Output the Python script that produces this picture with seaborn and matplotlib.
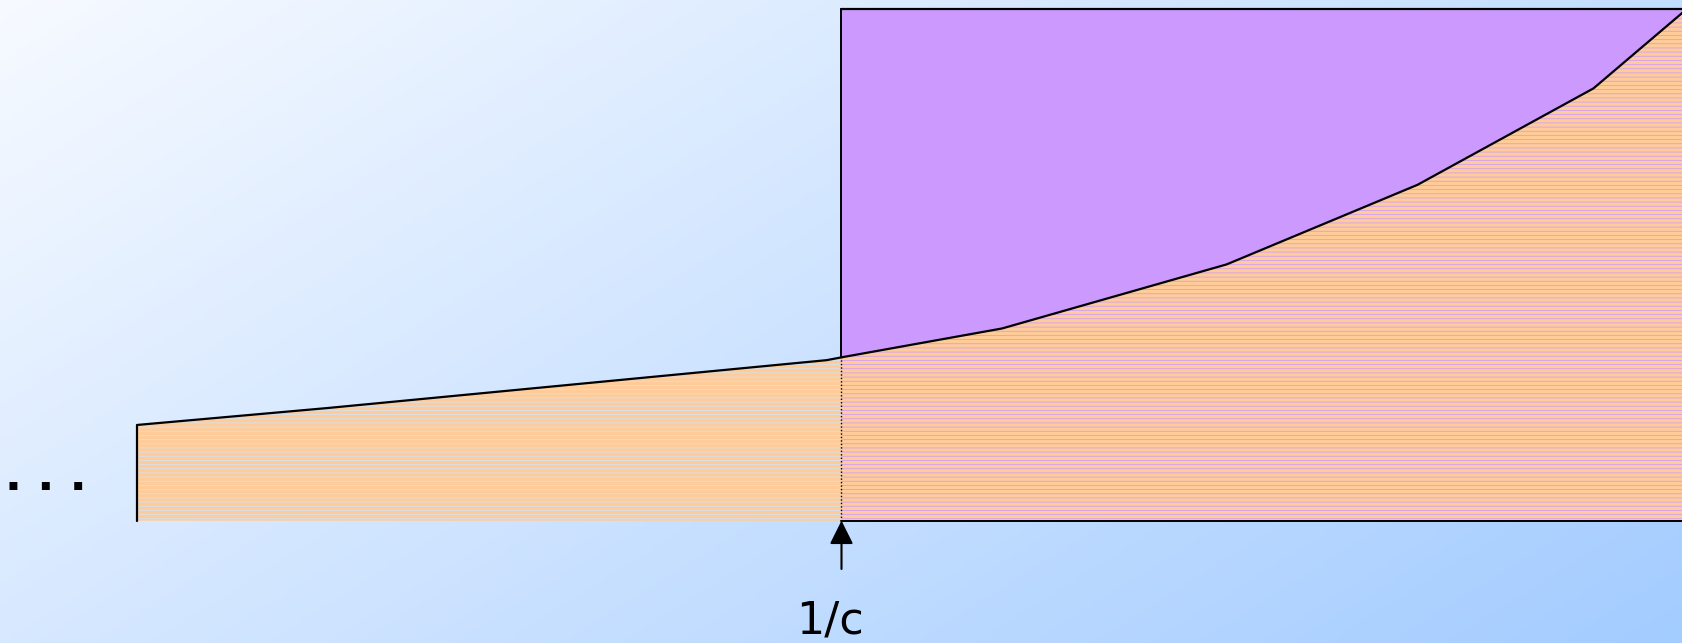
import numpy as np
import matplotlib
matplotlib.use("Agg")
import matplotlib.pyplot as plt
import seaborn as sns

# curve, in units where 1/c = 1 (x) and same scale for height
curve_x = [0.0, 0.27, 0.979, 1.0, 1.228, 1.547, 1.818, 2.068, 2.195]
curve_h = [0.136, 0.160, 0.228, 0.232, 0.273, 0.364, 0.477, 0.614, 0.722]
inv_c = 1.0
box_top = 0.727
box_right = 2.195
label_text = "1/c"
dots_text = ". . ."

ORANGE = "#FFCC99"
PURPLE = "#CC99FF"
GAP_BLUE = "#CFE3FA"

sns.set_theme(style="white")
plt.rcParams["font.family"] = ["DejaVu Sans"]
plt.rcParams["hatch.linewidth"] = 0.55

fig = plt.figure(figsize=(16.83, 6.4399), dpi=100)
ax = fig.add_axes([0, 0, 1, 1])
xlim = (-0.1951, 2.1951)
ylim = (-0.1737, 0.7409)

# background gradient, light top-left -> blue bottom-right
h, w = 200, 500
u = np.linspace(0, 1, w)[None, :]
v = np.linspace(0, 1, h)[:, None]
t = 0.62 * u + 0.38 * v
c0 = np.array([247, 250, 255]) / 255
c1 = np.array([163, 204, 255]) / 255
grad = c0 + (c1 - c0) * t[..., None]
ax.imshow(grad, extent=(xlim[0], xlim[1], ylim[0], ylim[1]), aspect="auto",
          origin="upper", zorder=0)

# purple box right of 1/c
ax.fill([inv_c, box_right, box_right, inv_c], [0, 0, box_top, box_top],
        facecolor=PURPLE, edgecolor="none", zorder=1)

# striped orange area under the curve, split at 1/c so the thin gaps
# show light blue on the left and purple on the right
k = curve_x.index(inv_c)
parts = [(curve_x[:k + 1], curve_h[:k + 1], GAP_BLUE),
         (curve_x[k:], curve_h[k:], PURPLE)]
for px, py, gap in parts:
    with plt.rc_context({"hatch.color": gap}):
        patch = ax.fill(px + [px[-1], px[0]], py + [0, 0], facecolor=ORANGE,
                        edgecolor=gap, hatch="----", linewidth=0, zorder=2)[0]
    if hasattr(patch, "set_hatch_linewidth"):
        patch.set_hatch_linewidth(0.55)

# outlines
sns.lineplot(x=curve_x, y=curve_h, color="black", linewidth=1.6, ax=ax,
             sort=False, zorder=4)
ax.plot([curve_x[0], curve_x[0]], [0, curve_h[0]], color="black", lw=1.6, zorder=4)
h_at_c = curve_h[k]
ax.plot([inv_c, inv_c], [h_at_c, box_top], color="black", lw=1.4, zorder=4)
ax.plot([inv_c, box_right], [box_top, box_top], color="black", lw=1.6, zorder=4)
ax.plot([inv_c, box_right], [0, 0], color="black", lw=1.4, zorder=4)
ax.plot([inv_c, inv_c], [0, h_at_c], color="black", lw=1.0,
        linestyle=(0, (1, 1.5)), zorder=4)

# arrow and label at 1/c
ax.annotate("", xy=(inv_c, 0), xytext=(inv_c, -0.0686),
            arrowprops=dict(arrowstyle="-|>,head_length=0.8,head_width=0.4",
                            mutation_scale=18, color="black", lw=1.5,
                            shrinkA=0, shrinkB=0), zorder=5)
ax.text(inv_c - 0.017, -0.1585, label_text, ha="center", va="baseline",
        fontsize=32, color="black")
ax.text(-0.1295, 0.045, dots_text, ha="center", va="baseline",
        fontsize=32, fontweight="bold", color="black")

ax.set_xlim(*xlim)
ax.set_ylim(*ylim)
ax.axis("off")

fig.savefig("out.png", dpi=100)
